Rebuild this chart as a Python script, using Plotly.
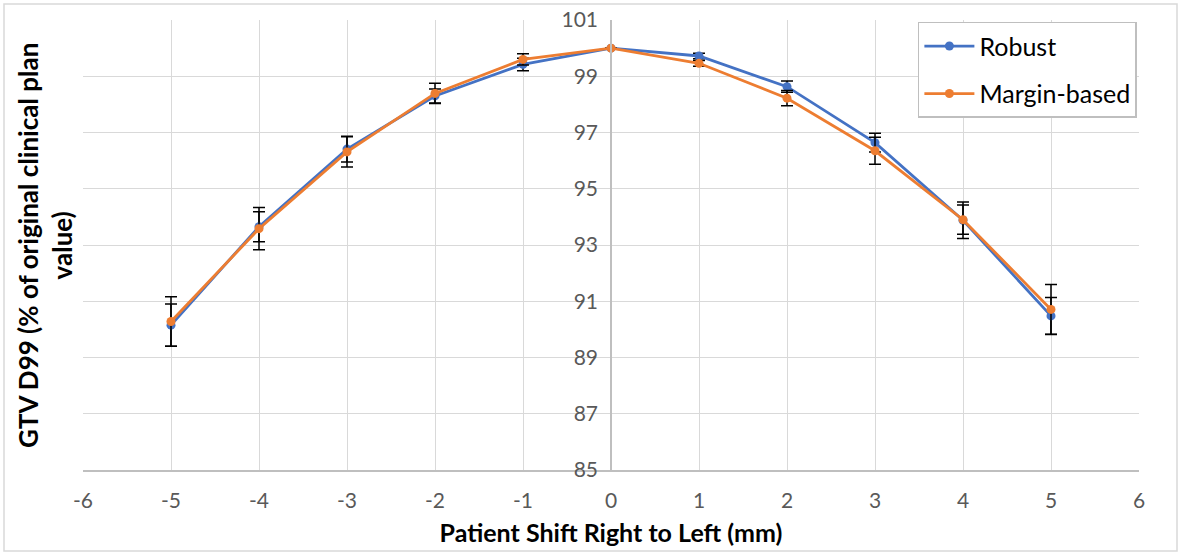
import plotly.graph_objects as go

# Patient shift (mm) and GTV D99 as % of the original clinical plan value
shift_mm = [-5, -4, -3, -2, -1, 0, 1, 2, 3, 4, 5]

robust_d99 = [90.15, 93.65, 96.41, 98.30, 99.42, 100.0, 99.72, 98.63, 96.64, 93.88, 90.48]
robust_err = [0.75, 0.53, 0.46, 0.25, 0.22, 0.0, 0.10, 0.20, 0.33, 0.65, 0.65]

margin_d99 = [90.28, 93.58, 96.31, 98.39, 99.60, 100.0, 99.46, 98.22, 96.35, 93.90, 90.71]
margin_err = [0.88, 0.75, 0.54, 0.36, 0.20, 0.0, 0.10, 0.27, 0.48, 0.52, 0.89]

x_ticks = [-6, -5, -4, -3, -2, -1, 0, 1, 2, 3, 4, 5, 6]
y_ticks = [85, 87, 89, 91, 93, 95, 97, 99, 101]

BLUE = "#4472C4"
ORANGE = "#ED7D31"
FONT = "Lato"

fig = go.Figure()

for name, vals, errs, color, grp in [
    ("Robust", robust_d99, robust_err, BLUE, "a"),
    ("Margin-based", margin_d99, margin_err, ORANGE, "b"),
]:
    fig.add_trace(go.Scatter(
        x=shift_mm, y=vals, name=name, mode="lines+markers",
        legendgroup=grp,
        line=dict(color=color, width=2.8),
        marker=dict(color=color, size=9),
        error_y=dict(type="data", array=errs, visible=True,
                     color="black", thickness=1.5, width=6),
    ))

fig.update_layout(
    width=1181, height=555,
    margin=dict(l=83, r=42, t=20, b=85, autoexpand=False),
    paper_bgcolor="white", plot_bgcolor="white",
    font=dict(family=FONT, color="#595959", size=21),
    showlegend=True,
    legend=dict(
        x=0.998, y=0.996, xanchor="right", yanchor="top",
        bgcolor="white", bordercolor="#bfbfbf", borderwidth=1.5,
        font=dict(family=FONT, size=25, color="black"),
        itemwidth=50, tracegroupgap=12,
    ),
    xaxis=dict(
        range=[-6, 6], tickmode="array", tickvals=x_ticks,
        ticktext=[str(v) for v in x_ticks], automargin=False,
        showgrid=True, gridcolor="#d9d9d9", gridwidth=1.2,
        zeroline=False, showline=True, linecolor="#bfbfbf", linewidth=1.5,
        ticks="", ticklabelstandoff=11,
        title=dict(text="<b>Patient Shift Right to Left (mm)</b>",
                   font=dict(family=FONT, size=25, color="black"), standoff=14),
    ),
    yaxis=dict(
        range=[85, 101], tickmode="array", tickvals=y_ticks,
        anchor="free", position=0.5, automargin=False,
        showgrid=True, gridcolor="#d9d9d9", gridwidth=1.2,
        zeroline=False, showline=True, linecolor="#bfbfbf", linewidth=1.5,
        ticks="", ticklabelstandoff=8,
    ),
    annotations=[dict(
        text="<b>GTV D99 (% of original clinical plan<br>value)</b>",
        xref="paper", yref="paper", x=-0.036, y=0.5,
        xanchor="center", yanchor="middle", textangle=-90, showarrow=False,
        font=dict(family=FONT, size=26, color="black"),
    )],
    shapes=[dict(
        type="rect", xref="paper", yref="paper",
        x0=(4 - 83) / 1056, x1=(1177 - 83) / 1056,
        y0=(470 - 551) / 450, y1=(470 - 4) / 450,
        line=dict(color="#d9d9d9", width=1.5), layer="below",
    )],
)

fig.write_html("out.html")
